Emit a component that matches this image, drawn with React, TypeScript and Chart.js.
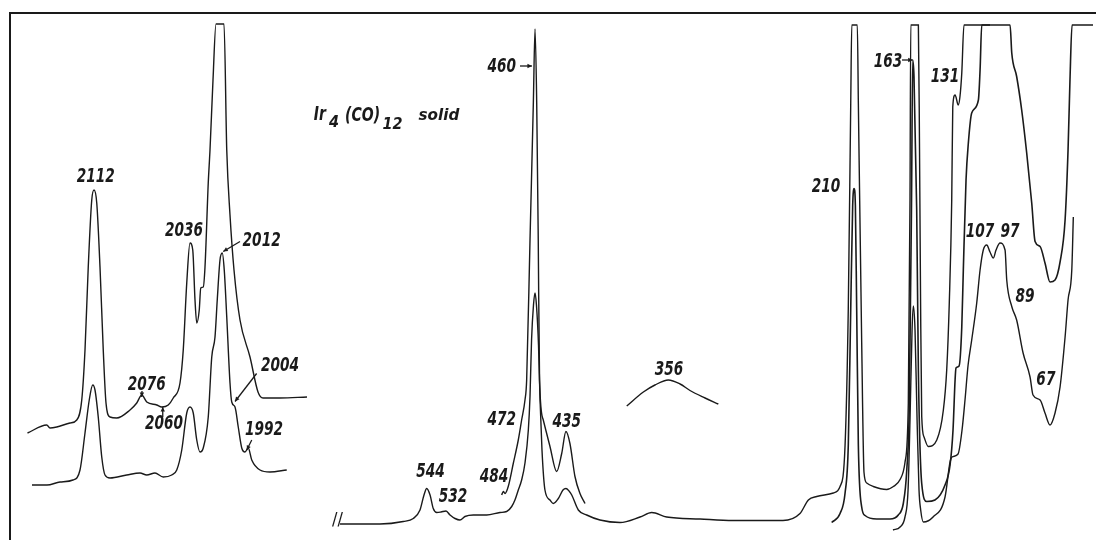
import { useEffect, useRef } from "react";
import { Chart, registerables } from "chart.js";

Chart.register(...registerables);

type Pt = [number, number];

// ---- IR, C-O stretching region (cm-1, relative intensity) ----
const IR_UPPER: Pt[] = [
  [2166, 21.4], [2150.6, 23], [2148, 22.4], [2142.6, 22.6], [2132, 23.4], [2126.6, 24],
  [2122.6, 28], [2120, 38], [2117.4, 54.6], [2114.6, 68], [2112.8, 70], [2110.6, 67.4],
  [2108, 54.6], [2105.4, 38], [2103.2, 27.4], [2100, 24.6], [2094.6, 24.4], [2084, 26],
  [2078.6, 27.4], [2074.6, 29], [2070.6, 27.6], [2062.6, 27], [2058.6, 26.6], [2053.4, 27],
  [2049.4, 28.4], [2044, 31.4], [2041.4, 38], [2038.6, 51.4], [2036, 59.4], [2033.8, 58],
  [2032, 48], [2030.6, 43.4], [2028.6, 46], [2027.4, 50.4], [2025.4, 50.6], [2024, 54.6],
  [2021.4, 71.4], [2020, 78], [2017.6, 92], [2015.2, 103.2], [2008.8, 103.2], [2006.6, 78],
  [2004, 65], [2000.8, 54], [1996, 44], [1988, 36.6], [1981.6, 29.6], [1977.6, 28.4],
  [1964, 28.4], [1942.4, 28.6],
];

const IR_LOWER: Pt[] = [
  [2162.4, 11], [2150.4, 11], [2140, 11.6], [2129.6, 12], [2124, 14], [2120, 21.4],
  [2116.6, 28], [2113.8, 31], [2112, 30], [2109.4, 24.6], [2106.6, 16.6], [2104, 13],
  [2100, 12.4], [2086.6, 13], [2076, 13.4], [2070.6, 13], [2064, 13.4], [2057.4, 12.6],
  [2050.6, 13], [2046.6, 14], [2042.6, 18], [2038.6, 25.4], [2036, 26.6], [2033.4, 25.4],
  [2030.6, 20], [2028, 17.6], [2025.4, 18.4], [2021.4, 24.6], [2018.6, 36.6], [2016, 40.6],
  [2014.2, 48], [2012, 56], [2010.2, 57.4], [2008.6, 54], [2006.6, 44.6], [2004, 31.4],
  [2002.6, 27.6], [2000, 26.6], [1997.4, 22.6], [1994.6, 18.4], [1992, 17.6], [1989.4, 18.4],
  [1986.6, 16], [1980, 14], [1972, 13.6], [1958.6, 14],
];

// ---- Raman / low-frequency region (cm-1, relative intensity) ----
const RAMAN_MAIN: Pt[] = [
  [609.8, 3.2], [599.5, 3.2], [578.8, 3.2], [560.7, 3.7], [552.9, 4.3], [547.7, 6],
  [544.6, 9], [542.5, 10.3], [539.9, 9], [537.4, 6.3], [534.7, 5.5], [531.4, 5.6],
  [527.5, 5.8], [524.4, 5], [520.5, 4.3], [516.7, 4], [512.8, 4.7], [506.3, 5],
  [495.9, 5], [485.6, 5.5], [480.4, 5.7], [476.5, 6.7], [474, 8], [471.4, 10],
  [468.8, 12], [466.2, 15.4], [463.6, 22], [462.3, 28.7], [461.1, 40], [459.6, 47],
  [458.4, 49.4], [457.3, 47], [455.7, 39], [454.5, 28], [453, 18], [450.7, 10],
  [446.8, 8], [444.2, 7.3], [440.3, 8.3], [436.7, 10], [434.4, 10.3], [432, 9.8],
  [429.9, 9], [424.8, 6], [418.3, 5], [408, 4], [392.4, 3.5], [376.9, 4.6],
  [367.8, 5.5], [356.2, 4.6], [330.3, 4.2], [304.7, 3.9], [265.9, 3.9], [252.7, 5.3],
  [246.2, 8], [239.7, 8.7], [226.8, 9.4], [221.6, 10.7], [217.7, 19], [215.2, 46.4],
  [213.3, 87.5], [212.5, 103], [208.2, 103], [207.4, 87.5], [204.8, 39.5], [203, 13.5],
  [200.9, 11.4], [195.8, 10.7], [185.4, 10.1], [180.2, 10.7], [175, 12.1], [171.2, 15.5],
  [168.6, 27.4], [167.3, 68], [166.7, 103], [160.8, 103], [159.9, 78], [159.1, 48],
  [158.2, 24.7], [156.4, 20.6], [153.1, 18.7], [146.5, 20], [141.4, 26], [138.8, 34],
  [136.8, 47.4], [134.9, 68], [134.1, 86.6], [132.3, 89], [129.8, 87], [128.5, 88.7],
  [127.1, 93.4], [125.4, 103], [105.2, 103],
];

const RAMAN_460: Pt[] = [
  [484.3, 9], [483, 9.7], [481.7, 9.3], [479.2, 10.7], [475.3, 15.3], [471.4, 20],
  [468.8, 24], [466.2, 28], [464.9, 32], [462.3, 60], [459.7, 87.5], [458.4, 102.2],
  [457.1, 87.5], [455.9, 60], [454.9, 32], [452, 24], [446.8, 18.7], [441.6, 13.7],
  [437.7, 17.3], [434.4, 21.7], [431.3, 19.3], [427.4, 12.7], [423.5, 9.3], [419.6, 7.3],
];

const RAMAN_356: Pt[] = [
  [387.2, 26.8], [374.3, 29.6], [365.3, 31], [354.9, 32], [345.8, 31.2], [338.1, 29.9],
  [326.4, 28.4], [316.1, 27.2],
];

const RAMAN_SECOND: Pt[] = [
  [228.1, 3.5], [221.6, 5.3], [217.7, 9.4], [215.2, 19], [213.3, 46.4], [211.8, 66.9],
  [210.7, 70.3], [209.7, 66.9], [208.7, 46.4], [207.4, 19], [204.8, 6.6], [202.2, 4.9],
  [193.1, 4.2], [182.8, 4.2], [176.4, 5], [172.5, 7.3], [169.8, 14], [167.8, 27.4],
  [166.1, 68], [165.2, 96], [164.2, 92.7], [162.1, 66], [160.8, 34], [158.2, 11.3],
  [154.3, 7.7], [147.9, 8], [140.1, 11], [136.2, 15], [133.9, 22], [132.3, 32],
  [131.6, 34.4], [129.2, 34.8], [127.1, 42.6], [125.9, 54], [123.8, 72], [122, 79.4],
  [119.4, 85.4], [114.2, 88], [112.9, 94], [111.6, 103], [89.6, 103], [88.3, 97.4],
  [84.5, 92.7], [80.6, 86], [76.7, 77.4], [72.8, 67.4], [70.2, 59.7], [66.3, 58.7],
  [62.5, 55.4], [58.6, 51.6], [54.7, 52], [50.8, 55.6], [46.9, 64], [44.6, 78],
  [43.1, 92], [41.5, 103], [25.2, 103],
];

const RAMAN_THIRD: Pt[] = [
  [180.5, 2], [175, 2.6], [171.2, 4.6], [168.8, 10], [167.3, 24], [165.7, 42],
  [164.7, 46.8], [163.4, 42], [161.8, 24], [160.3, 10], [159, 6], [156.9, 3.6],
  [149.4, 4.6], [140.1, 8.6], [136.2, 15.6], [134.7, 16.6], [130, 17.2], [126.9, 22],
  [124.6, 28], [122.2, 35], [119.4, 40], [115.5, 47.4], [112.9, 54], [110.4, 58],
  [107.7, 59], [105.2, 57.6], [102.6, 56.4], [100.5, 58], [97.4, 59.4], [93.5, 58],
  [92.2, 52], [88.3, 46.7], [84.5, 44], [79.5, 37.4], [74.1, 32.6], [71.8, 29],
  [66.3, 28], [62.5, 25.4], [58.6, 23], [54.7, 25.4], [50.8, 30.6], [46.9, 40.6],
  [44.6, 48], [41.7, 54], [40.5, 64.6],
];

// ---- annotations (text and anchor in data units) ----
type Label = { text: string; at: Pt; kind?: string };

const IR_LABELS: Label[] = [
  { text: "2112", at: [2111.4, 72.5] },
  { text: "2036", at: [2040.8, 61.7] },
  { text: "2012", at: [1978.7, 59.7] },
  { text: "2076", at: [2070.6, 31] },
  { text: "2060", at: [2056.8, 23.2] },
  { text: "2004", at: [1964, 34.7] },
  { text: "1992", at: [1976.8, 22] },
];

const RAMAN_LABELS: Label[] = [
  { text: "460", at: [484.3, 94.6] },
  { text: "472", at: [484.3, 23.9] },
  { text: "484", at: [490.3, 12.6] },
  { text: "544", at: [539.6, 13.5] },
  { text: "532", at: [522.1, 8.5] },
  { text: "435", at: [433.8, 23.5] },
  { text: "356", at: [354.4, 34] },
  { text: "210", at: [232.5, 70.6] },
  { text: "163", at: [184.4, 95.5] },
  { text: "131", at: [140.1, 92.5] },
  { text: "107", at: [113, 61.5] },
  { text: "97", at: [89.6, 61.5] },
  { text: "89", at: [78, 48.5] },
  { text: "67", at: [61.8, 31.9] },
  { text: "//", at: [611.8, 3.9], kind: "break" },
  { text: "Ir", at: [625.4, 85.1], kind: "formula" },
  { text: "4", at: [614.5, 83.4], kind: "sub" },
  { text: "(CO)", at: [592.3, 84.9], kind: "formula" },
  { text: "12", at: [569.1, 83], kind: "sub" },
  { text: "solid", at: [533, 84.9], kind: "word" },
];

const IR_LEADERS: [Pt, Pt][] = [
  [[1996, 59.7], [2009.4, 57.7]],
  [[2074.4, 29.8], [2074.6, 28.6]],
  [[2057.8, 24.6], [2057.8, 26.6]],
  [[1982.7, 33.3], [2000, 27.7]],
  [[1986.6, 20], [1990.6, 18]],
];

const RAMAN_LEADERS: [Pt, Pt][] = [
  [[470.1, 94.8], [460.8, 94.8]],
  [[173.5, 96], [165.2, 96]],
];

const INK = "#1a1a1a";

const TEXT_STYLE: Record<string, { size: number; sx: number; weight: string; italic: boolean }> = {
  peak: { size: 19, sx: 0.72, weight: "bold", italic: true },
  formula: { size: 20, sx: 0.7, weight: "bold", italic: true },
  sub: { size: 16, sx: 0.9, weight: "bold", italic: true },
  word: { size: 16, sx: 0.95, weight: "bold", italic: true },
  break: { size: 18, sx: 0.9, weight: "normal", italic: false },
};

const annotatePlugin = {
  id: "annotate",
  afterDatasetsDraw(chart: any) {
    const { ctx, scales } = chart;
    const ys = scales.y;
    ctx.save();
    ctx.strokeStyle = INK;
    ctx.fillStyle = INK;
    ctx.lineWidth = 1.3;

    const leader = (xs: any, seg: [Pt, Pt]) => {
      const [a, b] = seg;
      const x1 = xs.getPixelForValue(a[0]);
      const y1 = ys.getPixelForValue(a[1]);
      const x2 = xs.getPixelForValue(b[0]);
      const y2 = ys.getPixelForValue(b[1]);
      ctx.beginPath();
      ctx.moveTo(x1, y1);
      ctx.lineTo(x2, y2);
      ctx.stroke();
      const ang = Math.atan2(y2 - y1, x2 - x1);
      const h = 5;
      ctx.beginPath();
      ctx.moveTo(x2, y2);
      ctx.lineTo(x2 - h * Math.cos(ang - 0.45), y2 - h * Math.sin(ang - 0.45));
      ctx.lineTo(x2 - h * Math.cos(ang + 0.45), y2 - h * Math.sin(ang + 0.45));
      ctx.closePath();
      ctx.fill();
    };

    const text = (xs: any, l: Label) => {
      const st = TEXT_STYLE[l.kind || "peak"];
      ctx.save();
      ctx.translate(xs.getPixelForValue(l.at[0]), ys.getPixelForValue(l.at[1]));
      ctx.scale(st.sx, 1);
      ctx.font = `${st.italic ? "italic " : ""}${st.weight} ${st.size}px "DejaVu Sans"`;
      ctx.textAlign = "center";
      ctx.textBaseline = "middle";
      ctx.fillText(l.text, 0, 0);
      ctx.restore();
    };

    IR_LEADERS.forEach((s) => leader(scales.xl, s));
    RAMAN_LEADERS.forEach((s) => leader(scales.xr, s));
    IR_LABELS.forEach((l) => text(scales.xl, l));
    RAMAN_LABELS.forEach((l) => text(scales.xr, l));
    ctx.restore();
  },
};

function series(data: Pt[], axis: string, width = 1.4) {
  return {
    data: data.map(([x, y]) => ({ x, y })),
    xAxisID: axis,
    yAxisID: "y",
    borderColor: INK,
    borderWidth: width,
    pointRadius: 0,
    cubicInterpolationMode: "monotone",
    fill: false,
  };
}

export default function App() {
  const ref = useRef<HTMLCanvasElement | null>(null);

  useEffect(() => {
    if (!ref.current) return;
    const chart = new Chart(ref.current, {
      type: "line",
      data: {
        datasets: [
          series(IR_UPPER, "xl"),
          series(IR_LOWER, "xl"),
          series(RAMAN_MAIN, "xr"),
          series(RAMAN_460, "xr"),
          series(RAMAN_356, "xr"),
          series(RAMAN_SECOND, "xr", 1.6),
          series(RAMAN_THIRD, "xr"),
        ] as any,
      },
      options: {
        animation: false,
        responsive: true,
        maintainAspectRatio: false,
        layout: { padding: { left: 10, top: 13, right: 0, bottom: 0 } },
        plugins: { legend: { display: false }, tooltip: { enabled: false } },
        events: [],
        scales: {
          xl: {
            type: "linear",
            position: "top",
            reverse: true,
            min: 1311.2,
            max: 2180,
            ticks: { display: false },
            grid: { display: false, drawTicks: false },
            border: { display: true, color: INK, width: 2 },
            afterFit: (s: any) => {
              s.height = 0;
            },
          },
          xr: {
            type: "linear",
            position: "bottom",
            reverse: true,
            min: 22.9,
            max: 866,
            display: false,
          },
          y: {
            type: "linear",
            position: "left",
            min: 0,
            max: 105.4,
            ticks: { display: false },
            grid: { display: false, drawTicks: false },
            border: { display: true, color: INK, width: 2 },
            afterFit: (s: any) => {
              s.width = 0;
            },
          },
        } as any,
      },
      plugins: [annotatePlugin],
    });
    return () => chart.destroy();
  }, []);

  return (
    <div
      style={{
        position: "absolute",
        left: 0,
        top: 0,
        width: 1096,
        height: 540,
        background: "#fff",
      }}
    >
      <canvas ref={ref} />
    </div>
  );
}
